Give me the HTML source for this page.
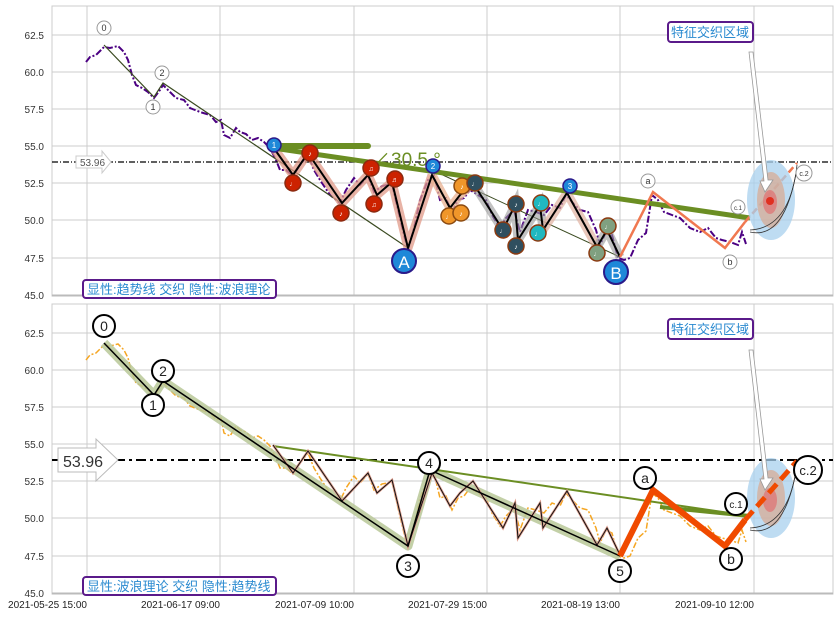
<!DOCTYPE html>
<html><head><meta charset="utf-8"><style>
html,body{margin:0;padding:0;background:#fff;}
svg{display:block;font-family:"Liberation Sans","Noto Sans CJK SC",sans-serif;}
</style></head><body>
<svg width="839" height="617" viewBox="0 0 839 617" xmlns="http://www.w3.org/2000/svg">
<defs>
<g id="grid">
  <rect x="52" y="6" width="781" height="290" fill="#fff" stroke="#ccc" stroke-width="1"/>
  <g stroke="#ccc" stroke-width="1">
    <line x1="87" y1="6" x2="87" y2="296"/><line x1="220" y1="6" x2="220" y2="296"/>
    <line x1="354" y1="6" x2="354" y2="296"/><line x1="487" y1="6" x2="487" y2="296"/>
    <line x1="620" y1="6" x2="620" y2="296"/><line x1="754" y1="6" x2="754" y2="296"/>
    <line x1="52" y1="35" x2="833" y2="35"/><line x1="52" y1="72" x2="833" y2="72"/>
    <line x1="52" y1="109" x2="833" y2="109"/><line x1="52" y1="146" x2="833" y2="146"/>
    <line x1="52" y1="183" x2="833" y2="183"/><line x1="52" y1="220" x2="833" y2="220"/>
    <line x1="52" y1="258" x2="833" y2="258"/>
  </g>
  <line x1="52" y1="295.5" x2="833" y2="295.5" stroke="#bbb" stroke-width="2"/>
  <g font-size="10" fill="#333" text-anchor="end">
    <text x="44" y="39">62.5</text><text x="44" y="76">60.0</text><text x="44" y="113">57.5</text>
    <text x="44" y="150">55.0</text><text x="44" y="187">52.5</text><text x="44" y="224">50.0</text>
    <text x="44" y="262">47.5</text><text x="44" y="299">45.0</text>
  </g>
</g>
<polyline id="price" fill="none" points="86,62 90,57 96,55 104,47 110,48 118,46 124,52 128,60 132,75 136,85 142,88 148,92 154,98 160,90 163,85 170,92 176,98 184,100 190,108 200,112 210,115 216,122 221,120 224,135 230,138 236,128 240,132 246,134 252,140 258,138 264,142 270,148 276,160 280,170 286,170 293,176 300,165 308,155 314,170 320,180 330,195 340,203 346,190 354,178 360,185 368,176 374,192 382,186 392,184 398,210 404,235 408,250 414,228 420,200 428,180 434,175 440,200 446,198 452,212 458,200 464,198 470,190 478,195 486,200 492,215 500,228 506,218 514,210 520,232 528,210 536,212 544,215 552,205 560,208 566,195 572,202 580,210 588,212 596,230 600,245 606,232 612,235 618,258 624,260 630,258 638,240 646,233 652,195 658,200 664,212 672,215 680,218 690,228 700,232 708,228 716,238 722,240 730,242 738,245 742,232 746,244"/>
<polyline id="zig" fill="none" points="273,147 293,175 308,153 342,203 368,175 377,195 392,182 408,248 432,175 450,208 460,195 473,183 503,230 515,205 518,240 540,205 543,230 567,193 597,247 607,230 620,257"/>
</defs>

<use href="#grid"/>
<use href="#price" stroke="#4b0082" stroke-width="2" stroke-dasharray="7,2,2,2"/>
<line x1="52" y1="162" x2="833" y2="162" stroke="#000" stroke-width="1.2" stroke-dasharray="6,2,1,2"/>
<polygon points="76,156 102,156 102,151 111,162 102,173 102,168 76,168" fill="#fff" stroke="#ccc"/>
<text x="80" y="166" font-size="10" fill="#555">53.96</text>
<polyline points="104,45 154,97 163,83 408,248" fill="none" stroke="#3a4a20" stroke-width="1.2"/>
<line x1="432" y1="170" x2="620" y2="257" stroke="#3a4a20" stroke-width="1"/>
<polyline points="273,147 293,175 308,153 342,203 368,175 377,195 392,182 408,248 432,175" fill="none" stroke="#e09a88" stroke-width="9" stroke-opacity="0.75" stroke-linejoin="round"/>
<polyline points="432,175 450,208 460,195 473,183" fill="none" stroke="#e8b090" stroke-width="9" stroke-opacity="0.75"/>
<polyline points="473,183 503,230 515,205 518,240 540,205 543,230" fill="none" stroke="#999" stroke-width="9" stroke-opacity="0.6"/>
<polyline points="543,230 567,193 597,247" fill="none" stroke="#e0b0a0" stroke-width="9" stroke-opacity="0.7"/>
<polyline points="597,247 607,230 620,257" fill="none" stroke="#999" stroke-width="9" stroke-opacity="0.6"/>
<line x1="273" y1="146" x2="368" y2="146" stroke="#6b8e23" stroke-width="6" stroke-linecap="round"/>
<line x1="273" y1="148" x2="750" y2="218" stroke="#6b8e23" stroke-width="5"/>
<text x="372" y="166" font-size="19" fill="#6b8e23">∠30.5 °</text>
<use href="#zig" stroke="#000" stroke-width="2"/>
<polyline points="620,257 653,192 725,248 745,222" fill="none" stroke="#f07850" stroke-width="2.5"/>
<line x1="745" y1="222" x2="797" y2="163" stroke="#f07850" stroke-width="2.5" stroke-dasharray="7,4"/>
<ellipse cx="771" cy="200" rx="24" ry="40" fill="#a8d0ee" fill-opacity="0.75"/>
<ellipse cx="771" cy="200" rx="14" ry="28" fill="#d8a890" fill-opacity="0.7"/>
<ellipse cx="770" cy="202" rx="7" ry="12" fill="#e07070" fill-opacity="0.7"/>
<circle cx="770" cy="201" r="4" fill="#e03020"/>
<path d="M750,230 Q790,228 797,165" fill="none" stroke="#333" stroke-width="0.8"/>
<path d="M750,232 Q785,240 797,168" fill="none" stroke="#333" stroke-width="0.8"/>
<polygon points="749,52 753,52 768,180 773,180 765,192 760,181 764,181" fill="#fff" stroke="#999" stroke-width="0.8"/>
<g font-size="9" fill="#333" text-anchor="middle" stroke-width="1">
<circle cx="104" cy="28" r="7" fill="#fff" stroke="#999"/><text x="104" y="31">0</text>
<circle cx="153" cy="107" r="7" fill="#fff" stroke="#999"/><text x="153" y="110">1</text>
<circle cx="162" cy="73" r="7" fill="#fff" stroke="#999"/><text x="162" y="76">2</text>
<circle cx="648" cy="181" r="7" fill="#fff" stroke="#999"/><text x="648" y="184">a</text>
<circle cx="730" cy="262" r="7" fill="#fff" stroke="#999"/><text x="730" y="265">b</text>
<circle cx="738" cy="207" r="7" fill="#fff" stroke="#999"/><text x="738" y="210" font-size="6">c.1</text>
<circle cx="804" cy="173" r="8" fill="#fff" stroke="#999"/><text x="804" y="176" font-size="7">c.2</text>
</g>
<g font-size="8" fill="#fff" text-anchor="middle">
<circle cx="274" cy="145" r="7" fill="#1e88d8" stroke="#2a1a8a" stroke-width="1.5"/><text x="274" y="148">1</text>
<circle cx="433" cy="166" r="7" fill="#1e88d8" stroke="#2a1a8a" stroke-width="1.5"/><text x="433" y="169">2</text>
<circle cx="570" cy="186" r="7" fill="#1e88d8" stroke="#2a1a8a" stroke-width="1.5"/><text x="570" y="189">3</text>
<g fill="#cc2200" stroke="#8b2a10" stroke-width="1.5">
<circle cx="293" cy="183" r="8"/><circle cx="310" cy="153" r="8"/><circle cx="341" cy="213" r="8"/>
<circle cx="371" cy="168" r="8"/><circle cx="374" cy="204" r="8"/><circle cx="395" cy="179" r="8"/>
</g>
<g fill="#f0962a" stroke="#8b4a10" stroke-width="1.5">
<circle cx="449" cy="216" r="8"/><circle cx="461" cy="213" r="8"/><circle cx="462" cy="186" r="8"/>
</g>
<g fill="#2f4f5f" stroke="#8b3a10" stroke-width="1.5">
<circle cx="475" cy="183" r="8"/><circle cx="503" cy="230" r="8"/><circle cx="516" cy="204" r="8"/><circle cx="516" cy="246" r="8"/>
</g>
<g fill="#20b8c0" stroke="#8b3a10" stroke-width="1.5">
<circle cx="541" cy="203" r="8"/><circle cx="538" cy="233" r="8"/>
</g>
<g fill="#80a080" stroke="#8b3a10" stroke-width="1.5">
<circle cx="597" cy="253" r="8"/><circle cx="608" cy="226" r="8"/>
</g>
<g font-size="7">
<text x="293" y="186">♩</text><text x="310" y="156">♪</text><text x="341" y="216">♪</text><text x="371" y="171">♫</text>
<text x="374" y="207">♫</text><text x="395" y="182">♬</text><text x="449" y="219">♩</text><text x="461" y="216">♪</text>
<text x="462" y="189">♪</text><text x="475" y="186">♩</text><text x="503" y="233">♩</text><text x="516" y="207">♪</text>
<text x="516" y="249">♪</text><text x="541" y="206">♩</text><text x="538" y="236">♩</text><text x="597" y="256">♩</text><text x="608" y="229">♩</text>
</g>
<circle cx="404" cy="261" r="12" fill="#1e88d8" stroke="#2a1a8a" stroke-width="2"/><text x="404" y="268" font-size="17">A</text>
<circle cx="616" cy="272" r="12" fill="#1e88d8" stroke="#2a1a8a" stroke-width="2"/><text x="616" y="279" font-size="17">B</text>
</g>
<rect x="83" y="280" width="193" height="18" rx="3" fill="#fff" stroke="#5a1a8a" stroke-width="2"/>
<text x="87" y="294" font-size="13" fill="#2a8ad0">显性:趋势线 交织 隐性:波浪理论</text>
<rect x="668" y="22" width="85" height="20" rx="3" fill="#fff" stroke="#5a1a8a" stroke-width="2"/>
<text x="671" y="37" font-size="13" fill="#2a8ad0">特征交织区域</text>

<g transform="translate(0,298)">
<use href="#grid"/>
<use href="#price" stroke="#f5a623" stroke-width="1.5" stroke-dasharray="6,2,2,2"/>
<line x1="52" y1="162" x2="833" y2="162" stroke="#000" stroke-width="2" stroke-dasharray="10,4,3,4"/>
<polygon points="58,150 96,150 96,141 118,162 96,183 96,174 58,174" fill="#fff" stroke="#bbb"/>
<text x="63" y="169" font-size="16" fill="#333">53.96</text>
<polyline points="104,45 154,97 163,83 408,248 430,172 620,258" fill="none" stroke="#b8c898" stroke-width="9" stroke-opacity="0.85" stroke-linejoin="round"/>
<line x1="273" y1="148" x2="750" y2="218" stroke="#6b8e23" stroke-width="2"/>
<line x1="660" y1="209" x2="750" y2="218" stroke="#6b8e23" stroke-width="4"/>
<use href="#zig" stroke="#e0a090" stroke-width="2.5"/>
<use href="#zig" stroke="#111" stroke-width="1"/>
<polyline points="104,45 154,97 163,83 408,248 430,172 620,258" fill="none" stroke="#000" stroke-width="1.5"/>
<polyline points="620,258 653,192 725,248 745,222" fill="none" stroke="#f04a00" stroke-width="6"/>
<ellipse cx="771" cy="200" rx="24" ry="40" fill="#a8d0ee" fill-opacity="0.75"/>
<ellipse cx="771" cy="200" rx="14" ry="28" fill="#d8a890" fill-opacity="0.7"/>
<ellipse cx="770" cy="202" rx="7" ry="12" fill="#e07070" fill-opacity="0.7"/>
<line x1="745" y1="222" x2="797" y2="163" stroke="#f04a00" stroke-width="5" stroke-dasharray="12,6"/>
<path d="M750,230 Q790,228 797,165" fill="none" stroke="#333" stroke-width="0.8"/>
<path d="M750,232 Q785,240 797,168" fill="none" stroke="#333" stroke-width="0.8"/>
<polygon points="749,52 753,52 768,180 773,180 765,192 760,181 764,181" fill="#fff" stroke="#999" stroke-width="0.8"/>
<g font-size="14" fill="#222" text-anchor="middle">
<circle cx="104" cy="28" r="11" fill="#fff" stroke="#000" stroke-width="2"/><text x="104" y="33">0</text>
<circle cx="153" cy="107" r="11" fill="#fff" stroke="#000" stroke-width="2"/><text x="153" y="112">1</text>
<circle cx="163" cy="73" r="11" fill="#fff" stroke="#000" stroke-width="2"/><text x="163" y="78">2</text>
<circle cx="408" cy="268" r="11" fill="#fff" stroke="#000" stroke-width="2"/><text x="408" y="273">3</text>
<circle cx="429" cy="165" r="11" fill="#fff" stroke="#000" stroke-width="2"/><text x="429" y="170">4</text>
<circle cx="620" cy="273" r="11" fill="#fff" stroke="#000" stroke-width="2"/><text x="620" y="278">5</text>
<circle cx="645" cy="180" r="11" fill="#fff" stroke="#000" stroke-width="2"/><text x="645" y="185">a</text>
<circle cx="731" cy="261" r="11" fill="#fff" stroke="#000" stroke-width="2"/><text x="731" y="266">b</text>
<circle cx="736" cy="206" r="11" fill="#fff" stroke="#000" stroke-width="2"/><text x="736" y="210" font-size="10">c.1</text>
<circle cx="808" cy="172" r="14" fill="#fff" stroke="#000" stroke-width="2"/><text x="808" y="177" font-size="13">c.2</text>
</g>
<rect x="83" y="279" width="193" height="18" rx="3" fill="#fff" stroke="#5a1a8a" stroke-width="2"/>
<text x="87" y="293" font-size="13" fill="#2a8ad0">显性:波浪理论 交织 隐性:趋势线</text>
<rect x="668" y="21" width="85" height="20" rx="3" fill="#fff" stroke="#5a1a8a" stroke-width="2"/>
<text x="671" y="36" font-size="13" fill="#2a8ad0">特征交织区域</text>
</g>

<g font-size="10" fill="#222" text-anchor="end">
<text x="87" y="608">2021-05-25 15:00</text><text x="220" y="608">2021-06-17 09:00</text>
<text x="354" y="608">2021-07-09 10:00</text><text x="487" y="608">2021-07-29 15:00</text>
<text x="620" y="608">2021-08-19 13:00</text><text x="754" y="608">2021-09-10 12:00</text>
</g>
</svg>
</body></html>
